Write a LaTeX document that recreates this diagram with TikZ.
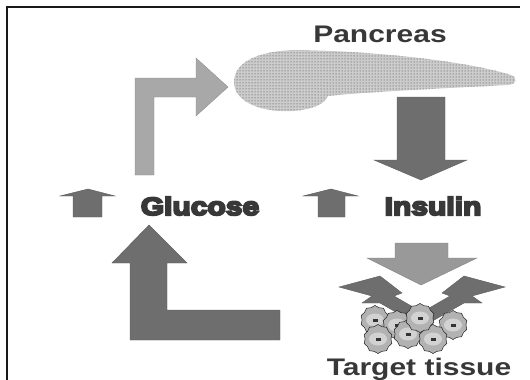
\documentclass[tikz,border=0pt]{standalone}
\usepackage{fontspec}
\setmainfont{Liberation Sans}
\newfontfamily\labelfont[FakeStretch=1.25]{Liberation Sans Bold}
\newfontfamily\heavyfont[FakeStretch=1.2,FakeBold=8]{Liberation Sans Bold}
\usetikzlibrary{shapes.geometric,patterns}

\definecolor{lightarrow}{gray}{0.66}
\definecolor{midarrow}{gray}{0.60}
\definecolor{darkarrow}{gray}{0.43}
\definecolor{organ}{gray}{0.80}
\definecolor{inktext}{gray}{0.22}

\tikzset{
  organ label/.style={anchor=base,text=inktext,font=\labelfont\fontsize{24}{24}\selectfont},
  level label/.style={anchor=base,text=inktext,font=\heavyfont\fontsize{25}{25}\selectfont},
  block arrow/.style={draw=#1!85!black,line width=0.4pt,fill=#1},
  cell/.style={star,star points=10,star point ratio=1.12,minimum size=29pt,inner sep=0pt,
    draw=gray!25!black,fill=gray!60,line width=0.5pt}
}

\begin{document}
\begin{tikzpicture}[x=1pt,y=-1pt]
\useasboundingbox (0,0) rectangle (530,380);
\draw[line width=1.5pt,gray!20!black] (7,380) -- (7,7) -- (520,7);
% pancreas
\path[fill=organ,postaction={pattern=dots,pattern color=gray!45!black}]
  (234,82) .. controls (234,62) and (258,51) .. (295,50)
  .. controls (380,51) and (470,62) .. (511,75)
  .. controls (518,78) and (517,84) .. (508,85)
  .. controls (450,88) and (365,92) .. (328,96)
  .. controls (324,107) and (302,112) .. (281,111)
  .. controls (256,110) and (234,100) .. (234,82) -- cycle;
% feedback arrows
\path[block arrow=lightarrow] (135,175) -- (135,78) -- (196,78) -- (196,58) -- (228,87)
  -- (196,116) -- (196,97) -- (154,97) -- (154,175) -- cycle;
\path[block arrow=darkarrow] (397,97) -- (445,97) -- (445,160) -- (467,160) -- (421,180)
  -- (374,160) -- (397,160) -- cycle;
\path[block arrow=darkarrow] (73,217) -- (73,196) -- (60,196) -- (88,189) -- (115,196)
  -- (102,196) -- (102,217) -- cycle;
\path[block arrow=darkarrow] (318,217) -- (318,196) -- (303,196) -- (331,189) -- (358,196)
  -- (345,196) -- (345,217) -- cycle;
\path[block arrow=darkarrow] (149,225) -- (187,263) -- (167,263) -- (167,310) -- (280,310)
  -- (280,340) -- (130,340) -- (130,263) -- (112,263) -- cycle;
\path[block arrow=midarrow] (395,243) -- (448,243) -- (448,258) -- (477,258) -- (421,285)
  -- (367,258) -- (395,258) -- cycle;
% lightning bolts
\path[block arrow=darkarrow] (339,287) -- (380,276) -- (402,293) -- (394,296) -- (432,318)
  -- (422,327) -- (380,303) -- (362,303) -- (372,296) -- cycle;
\path[block arrow=darkarrow] (505,287) -- (464,276) -- (442,293) -- (450,296) -- (412,318)
  -- (422,327) -- (464,303) -- (482,303) -- (472,296) -- cycle;
% tissue cells
\foreach \x/\y [count=\i] in {375/320,397/325,453/325,378/339,408/334,433/339,420/318}{
  \node[cell] (cell\i) at (\x,\y) {};
  \fill[gray!35] (\x,\y) ellipse (9 and 6.5);
  \fill[gray!40!black] (\x-2.5,\y-1.5) rectangle (\x+2.5,\y+1.5);
}
\node[organ label] (pancreas) at (380,42) {Pancreas};
\node[level label] (glucose) at (200,215) {Glucose};
\node[level label] (insulin) at (433,215) {Insulin};
\node[organ label] (target) at (419,375) {Target tissue};
\end{tikzpicture}
\end{document}
